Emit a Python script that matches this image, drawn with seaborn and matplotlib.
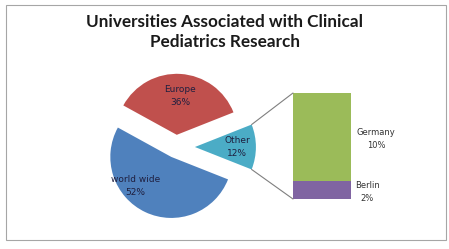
import numpy as np
import pandas as pd
import seaborn as sns
import matplotlib.pyplot as plt
from matplotlib.patches import Rectangle, ConnectionPatch

sns.set_style("white")
plt.rcParams['font.family'] = ['Lato', 'DejaVu Sans']

### data
pie_labels = ['Other', 'Europe', 'world wide']
pie_values = [12, 36, 52]
pie_colors = ['#4BACC6', '#C0504D', '#4F81BD']
pie_explode = [0.31, 0.2, 0.18]

bar_labels = ['Berlin', 'Germany']
bar_values = [2, 10]
bar_colors = ['#8064A2', '#9BBB59']

W, H = 449, 249
fig = plt.figure(figsize=(W / 100, H / 100), dpi=100)

# outer border
fig.patches.append(Rectangle((6 / W, 9 / H), 440 / W, 235 / H, transform=fig.transFigure,
                             fill=False, edgecolor='#a6a6a6', lw=0.8))

fig.text(225 / W, 1 - 32 / H, 'Universities Associated with Clinical\nPediatrics Research',
         ha='center', va='center', fontsize=12.3, fontweight='bold', linespacing=1.35, color='#1a1a1a')

# pie (1 unit = 61 px)
cx, cy, half = 176, 147, 80
ax1 = fig.add_axes([(cx - half) / W, (H - cy - half) / H, 2 * half / W, 2 * half / H])
start = -pie_values[0] / 100 * 360 / 2
wedges, _ = ax1.pie(pie_values, colors=pie_colors, explode=pie_explode, startangle=start,
                    counterclock=True, wedgeprops=dict(linewidth=0))
lim = half / 61
ax1.set_xlim(-lim, lim)
ax1.set_ylim(-lim, lim)
ax1.axis('off')

label_pos = [(1.0, -0.0), (0.066, 0.84), (-0.66, -0.64)]
for lab, val, (x, y) in zip(pie_labels, pie_values, label_pos):
    ax1.text(x, y, f'{lab}\n{val}%', ha='center', va='center', fontsize=6.5,
             color='#1f1f3f', linespacing=1.5, family=['DejaVu Sans'])

# stacked bar
ax2 = fig.add_axes([293 / W, (H - 199) / H, 58 / W, 106 / H])
bottom = 0
for lab, val, col in zip(bar_labels, bar_values, bar_colors):
    ax2.bar(0, val, width=1, bottom=bottom, color=col, linewidth=0)
    bottom += val
ax2.set_xlim(-0.5, 0.5)
ax2.set_ylim(0, sum(bar_values))
ax2.axis('off')

bar_label_pos = [(0.78, 0.8), (0.93, 6.8)]
for lab, val, (x, y) in zip(bar_labels, bar_values, bar_label_pos):
    ax2.text(x, y, f'{lab}\n{val}%', ha='center', va='center', fontsize=6,
             color='#333333', linespacing=1.6, family=['DejaVu Sans'])

# connector lines from the "Other" slice to the bar
theta = np.deg2rad(pie_values[0] / 100 * 360 / 2)
ex = pie_explode[0]
for sgn, yb in [(1, sum(bar_values)), (-1, 0)]:
    con = ConnectionPatch(xyA=(ex + np.cos(theta), sgn * np.sin(theta)), coordsA=ax1.transData,
                          xyB=(-0.5, yb), coordsB=ax2.transData, color='#7f7f7f', lw=0.8)
    fig.add_artist(con)

plt.savefig('out.png', dpi=100)
plt.close()
